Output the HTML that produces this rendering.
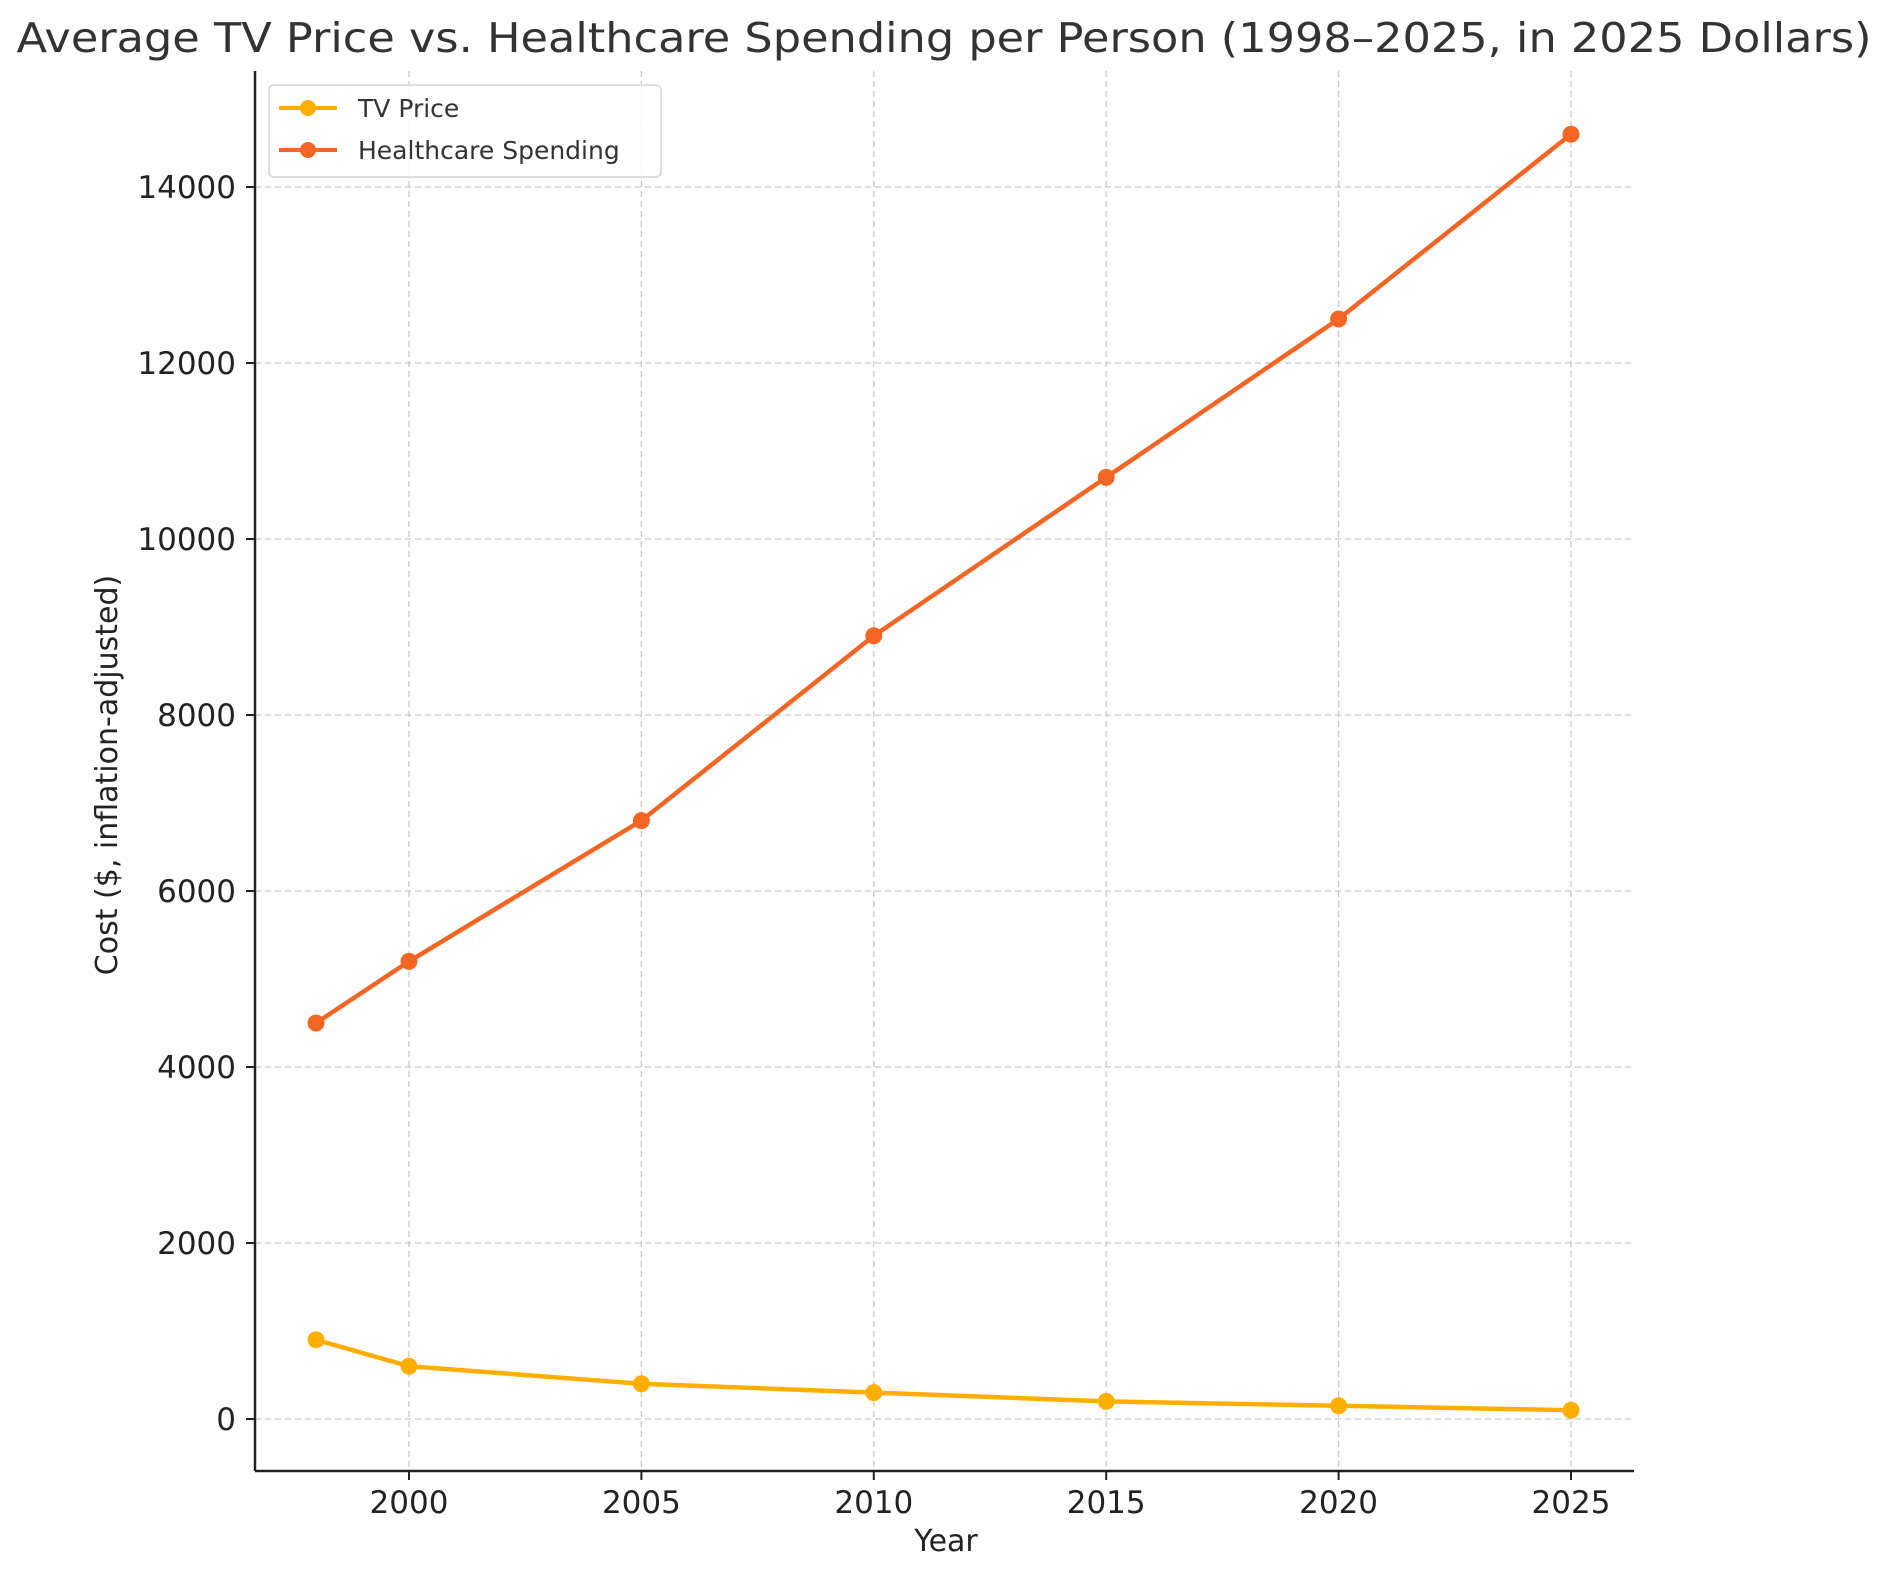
<!DOCTYPE html>
<html><head><meta charset="utf-8"><style>
html,body{margin:0;padding:0;background:#fff}
svg text{font-family:"DejaVu Sans","Liberation Sans",sans-serif;fill:#222}
</style></head><body>
<svg id="chart" width="1889" height="1580" viewBox="0 0 1889 1580" xmlns="http://www.w3.org/2000/svg">
<rect width="1889" height="1580" fill="#fff"/>
<text x="944" y="52" text-anchor="middle" font-size="41" textLength="1855" lengthAdjust="spacingAndGlyphs" style="fill:#333">Average TV Price vs. Healthcare Spending per Person (1998–2025, in 2025 Dollars)</text>
<g id="grid"></g>
<g id="series"></g>
<line x1="255" y1="71" x2="255" y2="1471" stroke="#222" stroke-width="2.5"/>
<line x1="255" y1="1471" x2="1634" y2="1471" stroke="#222" stroke-width="2.5"/>
<g id="ticks"></g>
<text x="946" y="1551" text-anchor="middle" font-size="30">Year</text>
<text transform="translate(117,775) rotate(-90)" text-anchor="middle" font-size="30">Cost ($, inflation-adjusted)</text>
<g>
<rect x="269" y="85" width="392" height="92" rx="5" fill="#fff" fill-opacity="0.85" stroke="#ddd" stroke-width="2"/>
<line x1="279" y1="108" x2="337" y2="108" stroke="#FFAE00" stroke-width="4"/>
<circle cx="308" cy="108" r="8" fill="#FFAE00"/>
<text x="358" y="117" font-size="25" style="fill:#333">TV Price</text>
<line x1="279" y1="150" x2="337" y2="150" stroke="#F26522" stroke-width="4"/>
<circle cx="308" cy="150" r="8" fill="#F26522"/>
<text x="358" y="159" font-size="25" style="fill:#333">Healthcare Spending</text>
</g>
</svg>
<script>
const years = [1998, 2000, 2005, 2010, 2015, 2020, 2025];
const tvPrice = [900, 600, 400, 300, 200, 150, 100];
const healthcare = [4500, 5200, 6800, 8900, 10700, 12500, 14600];
const xTicks = [2000, 2005, 2010, 2015, 2020, 2025];
const yTicks = [0, 2000, 4000, 6000, 8000, 10000, 12000, 14000];

const NS = 'http://www.w3.org/2000/svg';
const X = v => 409 + (v - 2000) * (1571 - 409) / 25;
const Y = v => 1419 - v * (1419 - 187) / 14000;
function mk(tag, attrs, parent) {
  const e = document.createElementNS(NS, tag);
  for (const k in attrs) e.setAttribute(k, attrs[k]);
  parent.appendChild(e);
  return e;
}
const grid = document.getElementById('grid');
const ticks = document.getElementById('ticks');
const series = document.getElementById('series');
xTicks.forEach(t => {
  const g = mk('line', {x1: X(t), y1: 71, x2: X(t), y2: 1471, stroke: '#c8c8c8', 'stroke-width': 1.3, 'stroke-dasharray': '6,4'}, grid);
  
  
  mk('line', {x1: X(t), y1: 1471, x2: X(t), y2: 1480, stroke: '#222', 'stroke-width': 2}, ticks);
  const lb = mk('text', {x: X(t), y: 1513, 'text-anchor': 'middle', 'font-size': 31}, ticks);
  lb.textContent = t;
  
  
});
yTicks.forEach(t => {
  const g = mk('line', {x1: 255, y1: Y(t), x2: 1634, y2: Y(t), stroke: '#c8c8c8', 'stroke-width': 1.3, 'stroke-dasharray': '6,4'}, grid);
  
  
  mk('line', {x1: 246, y1: Y(t), x2: 255, y2: Y(t), stroke: '#222', 'stroke-width': 2}, ticks);
  const lb = mk('text', {x: 236, y: Y(t) + 11, 'text-anchor': 'end', 'font-size': 31}, ticks);
  lb.textContent = t;
  
  
});
function drawSeries(vals, color, name) {
  const pts = years.map((y, i) => X(y) + ',' + Y(vals[i])).join(' ');
  const pl = mk('polyline', {points: pts, fill: 'none', stroke: color, 'stroke-width': 4.5, 'stroke-linejoin': 'round'}, series);
  
  
  years.forEach((y, i) => {
    const c = mk('circle', {cx: X(y), cy: Y(vals[i]), r: 8.5, fill: color}, series);
    
    
  });
}
drawSeries(tvPrice, '#FFAE00', 'tv-price');
drawSeries(healthcare, '#F26522', 'healthcare');
</script>
</body></html>
